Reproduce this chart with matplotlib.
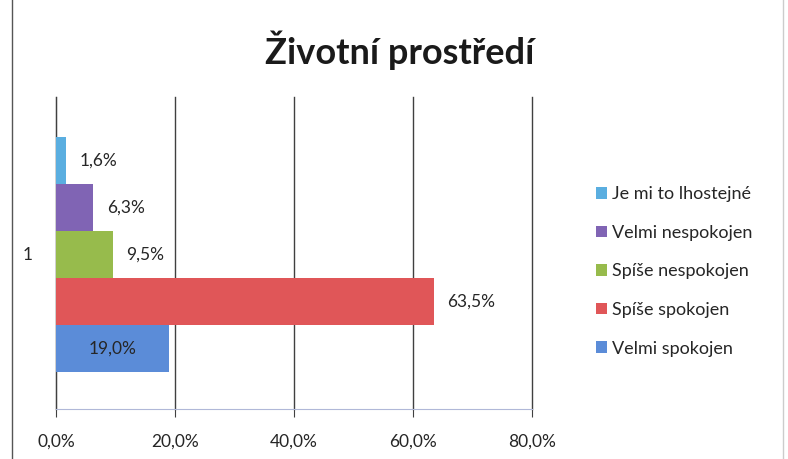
import matplotlib.pyplot as plt
from matplotlib.patches import Patch
from matplotlib.lines import Line2D

plt.rcParams['font.family'] = ['Lato', 'DejaVu Sans']

# data (top to bottom as in the chart)
categories = ["Je mi to lhostejné", "Velmi nespokojen", "Spíše nespokojen",
              "Spíše spokojen", "Velmi spokojen"]
values = [1.6, 6.3, 9.5, 63.5, 19.0]
colors = ["#5aaee0", "#8064b4", "#97bb4c", "#e05658", "#5b8cd8"]
x_ticks = [0, 20, 40, 60, 80]

fig = plt.figure(figsize=(7.88, 4.59), dpi=100)
ax = fig.add_axes([56 / 788, 50 / 459, 476 / 788, 312 / 459])

bar_h = 0.1506
base = 0.1186
n = len(values)
for i, (cat, val, col) in enumerate(zip(categories, values, colors)):
    y = base + (n - 1 - i) * bar_h + bar_h / 2
    ax.barh(y, val, height=bar_h, color=col, edgecolor='none', zorder=3)
    txt = f"{val:.1f}%".replace('.', ',')
    if i == n - 1:
        ax.text(val / 2, y, txt, ha='center', va='center', fontsize=12.5, color='#262626', zorder=4)
    else:
        ax.text(val + 2.3, y, txt, ha='left', va='center', fontsize=12.5, color='#262626', zorder=4)

ax.set_xlim(0, 80)
ax.set_ylim(0, 1)
ax.set_xticks(x_ticks)
ax.set_xticklabels([f"{t:.1f}%".replace('.', ',') for t in x_ticks], fontsize=12.5, color='#262626')
ax.set_yticks([0.5])
ax.set_yticklabels(['1'], fontsize=12.5, color='#262626')
ax.tick_params(axis='y', length=0, pad=17)
ax.tick_params(axis='x', length=6, color='#404040', pad=12)
ax.grid(axis='x', color='#404040', linewidth=1, zorder=0, clip_on=False)
for s in ['top', 'right']:
    ax.spines[s].set_visible(False)
ax.spines['left'].set_color('#404040')
ax.spines['bottom'].set_color('#b0b8d8')

fig.text(400 / 788, 1 - 50 / 459, "Životní prostředí", ha='center', va='center',
         fontsize=26, fontweight='bold', color='#1a1a1a')

handles = [Patch(facecolor=c, edgecolor='none', label=l) for c, l in zip(colors, categories)]
fig.legend(handles=handles, loc='upper left', bbox_to_anchor=(580 / 788, 1 - 170 / 459),
           frameon=False, fontsize=13, handlelength=0.6, handleheight=0.6,
           handletextpad=0.3, labelspacing=1.25, labelcolor='#262626')

# outer chart border
fig.add_artist(Line2D([12 / 788, 12 / 788], [0, 1], color='#555555', linewidth=1))
fig.add_artist(Line2D([783 / 788, 783 / 788], [0, 1], color='#cccccc', linewidth=1))

fig.savefig('out.png', dpi=100, facecolor='white')
